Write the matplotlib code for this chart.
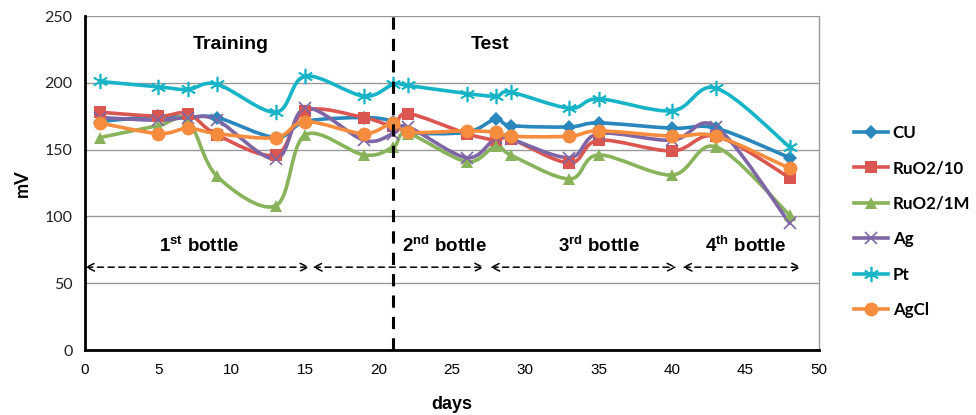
import numpy as np
import matplotlib.pyplot as plt
from matplotlib.path import Path
from matplotlib.patches import PathPatch
from matplotlib.lines import Line2D

# Data
days = [1, 5, 7, 9, 13, 15, 19, 21, 22, 26, 28, 29, 33, 35, 40, 43, 48]
cu = [171, 175, 174, 174, 159, 171, 174, 171, 163, 163, 173, 168, 167, 170, 166, 166, 144]
ruo2_10 = [178, 175, 177, 161, 146, 179, 174, 168, 177, 162, 157, 158, 140, 157, 149, 160, 129]
ruo2_1m = [159, 168, 172, 130, 108, 161, 146, 152, 162, 141, 153, 146, 128, 146, 131, 152, 101]
ag = [174, 172, 174, 172, 143, 181, 157, 162, 167, 144, 159, 158, 144, 162, 157, 167, 95]
pt = [201, 197, 195, 199, 178, 205, 190, 199, 198, 192, 190, 193, 181, 188, 179, 196, 152]
agcl = [170, 162, 166, 162, 159, 171, 162, 170, 163, 164, 163, 160, 160, 164, 160, 160, 136]

series = [
    ("CU", cu, "#2A87BD", "D", 7),
    ("RuO2/10", ruo2_10, "#DA5650", "s", 9),
    ("RuO2/1M", ruo2_1m, "#88B35A", "^", 9),
    ("Ag", ag, "#7E66A6", "x", 9),
    ("Pt", pt, "#17B4C8", (6, 2, 0), 11),
    ("AgCl", agcl, "#F68C3D", "o", 10),
]

bottles = [(0, 15.3), (15.5, 27.2), (27.6, 40.3), (40.7, 48.8)]
bottle_labels = [("1", "st"), ("2", "nd"), ("3", "rd"), ("4", "th")]
bottle_label_x = [7.8, 24.5, 35.0, 45.0]

sans = "Liberation Sans"
plt.rcParams["mathtext.fontset"] = "custom"
plt.rcParams["mathtext.bf"] = "Liberation Sans:bold"
plt.rcParams["mathtext.rm"] = "Liberation Sans"


def smooth_path(x, y):
    # Excel-like smoothed line: Catmull-Rom turned into cubic Bezier pieces
    pts = np.column_stack([x, y]).astype(float)
    n = len(pts)
    verts = [pts[0]]
    codes = [Path.MOVETO]
    for i in range(n - 1):
        p0 = pts[i - 1] if i > 0 else pts[i]
        p1 = pts[i]
        p2 = pts[i + 1]
        p3 = pts[i + 2] if i + 2 < n else pts[i + 1]
        c1 = p1 + (p2 - p0) / 6
        c2 = p2 - (p3 - p1) / 6
        verts += [c1, c2, p2]
        codes += [Path.CURVE4] * 3
    return Path(verts, codes)


fig = plt.figure(figsize=(9.76, 4.15), dpi=100)
ax = fig.add_axes([0.0871, 0.1566, 0.7520, 0.8048])

ax.set_xlim(0, 50)
ax.set_ylim(0, 250)
ax.set_xticks(range(0, 51, 5))
ax.set_yticks(range(0, 251, 50))
ax.yaxis.grid(True, color="#999999", lw=1)
ax.set_axisbelow(True)
ax.tick_params(axis="both", length=0, pad=9)
for lab in ax.get_yticklabels():
    lab.set_family("Lato")
    lab.set_fontsize(11.5)
    lab.set_color("#222222")
for lab in ax.get_xticklabels():
    lab.set_family(sans)
    lab.set_fontsize(11)
for side in ["left", "bottom"]:
    ax.spines[side].set_linewidth(2)
ax.spines["top"].set_visible(False)
ax.spines["right"].set_color("#999999")
ax.spines["right"].set_linewidth(1)

ax.set_xlabel("days", family=sans, fontsize=13, fontweight="bold", labelpad=14)
ax.set_ylabel("mV", family="Lato", fontsize=13, fontweight="bold", labelpad=10)

handles = []
for name, vals, color, marker, ms in series:
    ax.add_patch(PathPatch(smooth_path(days, vals), fill=False, edgecolor=color,
                           lw=2.6, capstyle="round", joinstyle="round", zorder=3))
    mew = 1.2 if marker in ("x",) or isinstance(marker, tuple) else 0
    ax.plot(days, vals, ls="none", marker=marker, ms=ms, color=color,
            mec=color, mew=mew, zorder=4)
    handles.append(Line2D([], [], color=color, lw=2.6, marker=marker, ms=ms,
                          mec=color, mew=mew))

# training / test divider
ax.plot([21, 21], [0, 250], color="black", lw=2.2, ls=(0, (4, 3)), zorder=5)
ax.text(9.9, 229, "Training", ha="center", va="center", fontsize=14,
        fontweight="bold", family=sans)
ax.text(27.6, 229, "Test", ha="center", va="center", fontsize=14,
        fontweight="bold", family=sans)

# bottle periods
for (x0, x1) in bottles:
    ax.annotate("", xy=(x1, 62), xytext=(x0, 62),
                arrowprops=dict(arrowstyle="<->", ls=(0, (4, 3)), lw=1.1,
                                color="black", mutation_scale=14,
                                shrinkA=0, shrinkB=0), zorder=5)
for (num, sup), bx in zip(bottle_labels, bottle_label_x):
    ax.text(bx, 78, num + r"$^{\mathbf{" + sup + r"}}$" + " bottle", ha="center",
            va="center", fontsize=13.5, fontweight="bold", family=sans)

ax.legend(handles, [s[0] for s in series], loc="center left",
          bbox_to_anchor=(1.038, 0.385), frameon=False, handlelength=2.0,
          handletextpad=0.3, labelspacing=1.15, borderaxespad=0,
          prop={"family": "Lato", "weight": "bold", "size": 12.2})

fig.savefig("out.png", dpi=100)
